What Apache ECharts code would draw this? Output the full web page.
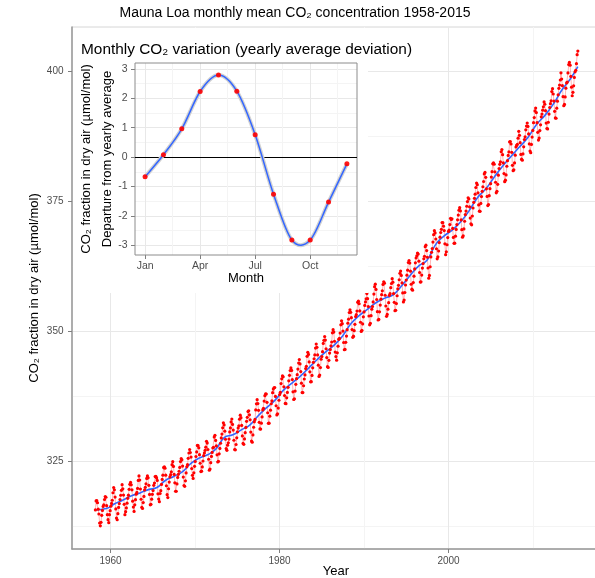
<!DOCTYPE html>
<html><head><meta charset="utf-8">
<script src="https://cdn.jsdelivr.net/npm/echarts@6/dist/echarts.min.js"></script>
<style>html,body{margin:0;padding:0;background:#fff}#c{width:595px;height:578px}</style>
</head><body><div id="c"></div>
<script>
// ---------------- DATA ----------------
const startYear = 1958, startMonth = 3; // first monthly value: March 1958
const co2_1958_1959 = [315.71,317.45,317.50,317.10,315.86,314.93,313.20,312.66,313.33,314.67,
  315.62,316.38,316.71,317.72,318.29,318.15,316.54,314.80,313.84,313.26,314.80,315.58];
const co2_1960s = [
  316.43,316.97,317.58,319.02,320.03,319.59,318.18,315.91,314.16,313.83,315.00,316.19,
  316.93,317.70,318.54,319.48,320.58,319.77,318.57,316.79,314.80,315.38,316.10,317.01,
  317.94,318.56,319.68,320.63,321.01,320.55,319.58,317.40,316.26,315.42,316.69,317.69,
  318.74,319.08,319.86,321.39,322.25,321.47,319.74,317.77,316.21,315.99,317.12,318.31,
  319.57,320.07,320.73,321.77,322.25,321.89,320.44,318.70,316.70,316.79,317.79,318.71,
  319.44,320.44,320.89,322.13,322.16,321.87,321.39,318.81,317.81,317.30,318.87,319.42,
  320.62,321.59,322.39,323.87,324.01,323.75,322.39,320.37,318.64,318.10,319.79,321.08,
  322.07,322.50,323.04,324.42,325.00,324.09,322.55,320.92,319.31,319.31,320.72,321.96,
  322.57,323.15,323.89,325.02,325.57,325.36,324.14,322.03,320.41,320.25,321.31,322.84,
  324.00,324.42,325.64,326.66,327.34,326.76,325.88,323.67,322.38,321.78,322.85,324.11];
const co2_1970s = [
  325.03,325.99,326.87,328.13,328.07,327.66,326.35,324.69,323.10,323.16,323.98,325.13,
  326.17,326.68,327.18,327.78,328.92,328.57,327.34,325.46,323.36,323.57,324.80,326.01,
  326.77,327.63,327.75,329.72,330.07,329.09,328.05,326.32,324.93,325.06,326.50,327.55,
  328.54,329.56,330.30,331.50,332.48,332.07,330.87,329.31,327.51,327.18,328.16,328.64,
  329.35,330.71,331.48,332.65,333.20,332.16,331.07,329.12,327.32,327.28,328.30,329.58,
  330.73,331.46,331.90,333.17,333.94,333.45,331.97,329.95,328.50,328.34,329.37,330.58,
  331.59,332.75,333.52,334.64,334.77,334.00,333.06,330.68,328.95,328.75,330.15,331.62,
  332.66,333.13,334.95,336.13,336.93,336.17,334.88,332.56,331.29,331.27,332.41,333.60,
  334.95,335.25,336.66,337.69,338.03,338.01,336.41,334.41,332.37,332.41,333.75,334.90,
  336.14,336.69,338.27,338.96,339.21,339.26,337.54,335.75,333.98,334.19,335.31,336.81];
const co2_1980s = [
  337.90,338.34,340.01,340.93,341.48,341.33,339.40,337.70,336.19,336.15,337.27,338.32,
  339.29,340.55,341.61,342.53,343.03,342.54,340.78,338.44,336.95,337.08,338.58,339.88,
  340.96,341.73,342.81,343.97,344.63,343.79,342.32,340.09,338.28,338.29,339.60,340.90,
  341.68,342.90,343.33,345.25,346.03,345.63,344.19,342.27,340.35,340.38,341.59,343.05,
  344.10,344.79,345.52,346.84,347.63,346.98,345.53,343.55,341.40,341.67,343.10,344.70,
  345.21,346.16,347.74,348.33,349.06,348.38,346.72,345.02,343.27,343.13,344.49,345.88,
  346.56,347.28,348.01,349.77,350.38,349.93,348.16,346.08,345.22,344.51,345.93,347.21,
  348.52,348.73,349.73,351.31,352.09,351.53,350.11,347.92,346.52,346.59,347.96,349.16,
  350.39,351.64,352.40,353.69,354.21,353.72,352.69,350.40,348.92,349.13,350.20,351.41,
  352.91,353.27,353.96,355.64,355.86,355.37,353.99,351.81,350.05,350.25,351.49,352.85];
const co2_1990s = [
  353.80,355.04,355.73,356.32,357.32,356.34,354.84,353.01,351.31,351.62,353.07,354.33,
  354.84,355.73,357.23,358.66,359.13,358.13,356.19,353.85,352.25,352.35,353.81,355.12,
  356.25,357.11,357.86,359.09,359.59,359.33,357.01,354.94,352.96,353.32,354.32,355.57,
  357.00,357.31,358.47,359.27,360.19,359.52,357.33,355.64,354.03,354.12,355.41,356.91,
  358.24,358.92,359.99,361.23,361.65,360.81,359.38,357.46,355.73,356.08,357.53,358.98,
  359.92,360.86,361.83,363.30,363.69,363.19,361.64,359.12,358.17,357.99,359.45,360.68,
  362.07,363.24,364.17,364.57,365.13,364.92,363.55,361.38,359.54,359.58,360.89,362.24,
  363.09,364.03,364.51,366.35,366.64,365.59,364.31,362.25,360.29,360.82,362.49,364.38,
  365.26,365.98,367.24,368.66,369.42,368.99,367.82,365.95,364.02,364.40,365.52,367.13,
  368.18,369.07,369.68,370.99,370.96,370.30,369.45,366.90,364.81,365.37,366.72,368.10];
const co2_2000s = [
  369.29,369.54,370.60,371.82,371.58,371.70,369.86,368.13,367.00,367.03,368.37,369.67,
  370.59,371.51,372.43,373.37,373.85,373.22,371.50,369.61,368.18,368.45,369.76,371.24,
  372.53,373.20,374.12,375.02,375.76,375.52,374.01,371.85,370.75,370.55,372.25,373.79,
  374.88,375.64,376.45,377.73,378.60,378.28,376.70,374.38,373.17,373.15,374.66,375.99,
  377.00,377.87,378.88,380.35,380.62,379.69,377.47,376.01,374.25,374.46,376.16,377.51,
  378.46,379.73,380.77,382.29,382.45,382.21,380.74,378.74,376.70,377.00,378.35,380.11,
  381.38,382.19,382.67,384.61,385.03,384.05,382.46,380.41,378.85,379.13,380.15,381.82,
  382.89,383.90,384.58,386.50,386.56,386.10,384.50,381.99,380.96,381.12,382.45,383.95,
  385.52,385.82,386.03,387.21,388.54,387.76,386.36,384.09,383.18,382.99,384.19,385.56,
  386.94,387.48,388.82,389.55,390.14,389.48,388.03,386.11,384.74,384.43,386.02,387.42];
const co2_2010s = [
  388.71,390.20,391.17,392.46,393.00,392.15,390.20,388.35,386.85,387.24,388.67,389.79,
  391.33,391.86,392.60,393.25,394.19,393.74,392.51,390.13,389.08,389.00,390.28,391.86,
  393.12,393.86,394.40,396.18,396.74,395.71,394.36,392.39,391.11,391.05,392.98,394.34,
  395.55,396.80,397.43,398.41,399.78,398.60,397.32,395.20,393.45,393.70,395.16,396.84,
  397.85,398.01,399.77,401.38,401.78,401.25,399.10,397.03,395.38,396.03,397.28,398.91,
  399.98,400.28,401.54,403.28,403.96];

// smoothed trend (blue line) and its confidence half-width (grey band)
const trendYears = [1958.2,1959.5,1960.5,1961.5,1962.5,1963.5,1964.5,1965.5,1966.5,1967.5,1968.5,1969.5,
  1970.5,1971.5,1972.5,1973.5,1974.5,1975.5,1976.5,1977.5,1978.5,1979.5,
  1980.5,1981.5,1982.5,1983.5,1984.5,1985.5,1986.5,1987.5,1988.5,1989.5,
  1990.5,1991.5,1992.5,1993.5,1994.5,1995.5,1996.5,1997.5,1998.5,1999.5,
  2000.5,2001.5,2002.5,2003.5,2004.5,2005.5,2006.5,2007.5,2008.5,2009.5,
  2010.5,2011.5,2012.5,2013.5,2014.5,2015.37];
const trendValues = [315.7,315.97,316.91,317.64,318.45,318.99,319.62,320.04,321.38,322.16,323.04,324.62,
  325.68,326.32,327.45,329.68,330.18,331.11,332.04,333.83,335.40,336.84,
  338.75,340.11,341.45,343.05,344.65,346.12,347.42,349.19,351.57,353.12,
  354.39,355.61,356.45,357.10,358.83,360.82,362.61,363.73,366.70,368.38,
  369.55,371.14,373.28,375.80,377.52,379.80,381.90,383.79,385.60,387.43,
  389.90,391.65,393.85,396.52,398.65,401.0];
const trendBand = [1.2,0.95,0.8,0.7,0.65,0.65,0.65,0.65,0.65,0.65,0.65,0.65,
  0.65,0.65,0.65,0.65,0.65,0.65,0.65,0.65,0.65,0.65,
  0.65,0.65,0.65,0.65,0.65,0.65,0.65,0.65,0.65,0.65,
  0.65,0.65,0.65,0.65,0.65,0.65,0.65,0.65,0.65,0.65,
  0.65,0.65,0.65,0.65,0.65,0.65,0.65,0.65,0.65,0.65,
  0.65,0.65,0.7,0.8,0.95,1.2];

// inset: monthly deviation from yearly average
const monthIndex = [0,1,2,3,4,5,6,7,8,9,10,11];
const monthDeviation = [-0.67,0.08,0.96,2.23,2.79,2.24,0.76,-1.26,-2.82,-2.82,-1.53,-0.23];
const monthTickValues = [0,3,6,9];
const monthTickLabels = ['Jan','Apr','Jul','Oct'];

// ---------------- BUILD ----------------
const FONT = "'Liberation Sans', Arial, Helvetica, sans-serif";
const monthly = [].concat(co2_1958_1959, co2_1960s, co2_1970s, co2_1980s, co2_1990s, co2_2000s, co2_2010s);
const monthlyPts = monthly.map((v, i) => {
  const k = startMonth - 1 + i;
  return [startYear + Math.floor(k / 12) + ((k % 12) + 0.5) / 12, v];
});
const bandLow = trendYears.map((x, i) => [x, trendValues[i] - trendBand[i]]);
const bandWidth = trendYears.map((x, i) => [x, 2 * trendBand[i]]);
const trendPts = trendYears.map((x, i) => [x, trendValues[i]]);
const insetPts = monthIndex.map((m, i) => [m, monthDeviation[i]]);

// spline segment (Catmull-Rom as cubic Bezier) between data points i and i+1, in pixel space via the axes
function splineSegment(api, i) {
  const n = insetPts.length;
  const p = k => api.coord(insetPts[Math.max(0, Math.min(n - 1, k))]);
  const p0 = p(i - 1), p1 = p(i), p2 = p(i + 1), p3 = p(i + 2);
  return {
    x1: p1[0], y1: p1[1], x2: p2[0], y2: p2[1],
    cpx1: p1[0] + (p2[0] - p0[0]) / 6, cpy1: p1[1] + (p2[1] - p0[1]) / 6,
    cpx2: p2[0] - (p3[0] - p1[0]) / 6, cpy2: p2[1] - (p3[1] - p1[1]) / 6
  };
}
function splineRenderer(color, width) {
  return function (params, api) {
    const i = params.dataIndex;
    if (i >= insetPts.length - 1) return null;
    return {type: 'bezierCurve', shape: splineSegment(api, i),
            style: {stroke: color, lineWidth: width, fill: 'none'}};
  };
}

const LABEL = {color: '#4d4d4d', fontSize: 10, fontFamily: FONT};
const TICK = {show: true, length: 4, lineStyle: {color: '#7f7f7f', width: 1}};
const MAJOR = {show: true, lineStyle: {color: '#e8e8e8', width: 1}};
const MINOR = {show: true, lineStyle: {color: '#f4f4f4', width: 1}};
const NOAX = {show: false, onZero: false};
function hiddenAxis(grid, min, max) {
  return {type: 'value', gridIndex: grid, min: min, max: max, show: false, axisLine: NOAX};
}
const gridBase = {containLabel: false, outerBoundsMode: 'none'};

const option = {
  animation: false,
  textStyle: {fontFamily: FONT},
  title: [
    {text: 'Mauna Loa monthly mean CO₂ concentration 1958-2015', left: 295, top: 6, textAlign: 'center',
     padding: 0, textStyle: {fontSize: 14, fontWeight: 'normal', color: '#000', fontFamily: FONT}},
    {text: 'Monthly CO₂ variation (yearly average deviation)', left: 81, top: 42, padding: 0, z: 10,
     textStyle: {fontSize: 15.4, fontWeight: 'normal', color: '#000', fontFamily: FONT}}
  ],
  graphic: [
    {type: 'rect', shape: {x: 73, y: 28, width: 295, height: 265}, style: {fill: '#ffffff'}, z: 3, silent: true}
  ],
  grid: [
    Object.assign({left: 72, top: 27, width: 528, height: 522, show: true, borderColor: '#d6d6d6', borderWidth: 1, backgroundColor: 'transparent', z: -1}, gridBase),
    Object.assign({left: 110.5, top: 27, width: 507, height: 522}, gridBase),
    Object.assign({left: 72, top: 71.7, width: 528, height: 520}, gridBase),
    Object.assign({left: 135, top: 63, width: 222, height: 192, show: true, borderColor: '#8c8c8c', borderWidth: 1, backgroundColor: 'transparent', z: 5}, gridBase),
    Object.assign({left: 145.1, top: 63, width: 211.9, height: 192}, gridBase),
    Object.assign({left: 135, top: 68.9, width: 222, height: 176.4}, gridBase)
  ],
  xAxis: [
    {type: 'value', gridIndex: 0, min: 1955.437, max: 2018.0,
     axisLine: {show: true, onZero: false, lineStyle: {color: '#999', width: 1.5}},
     axisTick: {show: false}, axisLabel: {show: false}, splitLine: {show: false},
     name: 'Year', nameLocation: 'middle', nameGap: 16, nameMoveOverlap: false,
     nameTextStyle: {fontSize: 13, color: '#000', fontFamily: FONT}},
    {type: 'value', gridIndex: 1, min: 1960, max: 2020, interval: 20,
     axisLine: NOAX, axisTick: TICK, axisLabel: Object.assign({margin: 7, formatter: v => String(v)}, LABEL),
     splitLine: MAJOR, minorTick: {show: false, splitNumber: 2}, minorSplitLine: MINOR},
    hiddenAxis(2, 0, 1),
    {type: 'value', gridIndex: 3, min: -0.55, max: 11.55, z: 5,
     axisLine: NOAX, axisTick: {show: false}, axisLabel: {show: false}, splitLine: {show: false},
     name: 'Month', nameLocation: 'middle', nameGap: 17, nameMoveOverlap: false,
     nameTextStyle: {fontSize: 13, color: '#000', fontFamily: FONT}},
    {type: 'value', gridIndex: 4, min: 0, max: 11.55, interval: 3, z: 4,
     axisLine: NOAX,
     axisTick: Object.assign({customValues: monthTickValues}, TICK),
     axisLabel: Object.assign({margin: 6, customValues: monthTickValues,
       formatter: v => { const i = monthTickValues.indexOf(Math.round(v * 1000) / 1000); return i >= 0 ? monthTickLabels[i] : ''; }},
       LABEL, {fontSize: 10.5}),
     splitLine: MAJOR, minorTick: {show: false, splitNumber: 2}, minorSplitLine: MINOR},
    hiddenAxis(5, 0, 1)
  ],
  yAxis: [
    {type: 'value', gridIndex: 0, min: 308.2, max: 408.6,
     axisLine: {show: true, onZero: false, lineStyle: {color: '#999', width: 1.5}},
     axisTick: {show: false}, axisLabel: {show: false}, splitLine: {show: false},
     name: 'CO₂ fraction in dry air (µmol/mol)', nameLocation: 'middle', nameRotate: 90, nameGap: 31,
     nameMoveOverlap: false, nameTextStyle: {fontSize: 13, color: '#000', fontFamily: FONT}},
    hiddenAxis(1, 0, 1),
    {type: 'value', gridIndex: 2, min: 300, max: 400, interval: 25,
     axisLine: NOAX, axisTick: TICK, axisLabel: Object.assign({margin: 8.5}, LABEL),
     splitLine: MAJOR, minorTick: {show: false, splitNumber: 2}, minorSplitLine: MINOR},
    {type: 'value', gridIndex: 3, min: -3.33, max: 3.2, z: 5,
     axisLine: NOAX, axisTick: {show: false}, axisLabel: {show: false}, splitLine: {show: false},
     name: 'CO₂ fraction in dry air (µmol/mol)\nDeparture from yearly average',
     nameLocation: 'middle', nameRotate: 90, nameGap: 17, nameMoveOverlap: false,
     nameTextStyle: {fontSize: 13, lineHeight: 21, color: '#000', fontFamily: FONT}},
    hiddenAxis(4, 0, 1),
    {type: 'value', gridIndex: 5, min: -3, max: 3, interval: 1, z: 4,
     axisLine: NOAX, axisTick: TICK, axisLabel: Object.assign({margin: 7.5}, LABEL, {fontSize: 10.5}),
     splitLine: MAJOR, minorTick: {show: false, splitNumber: 2}, minorSplitLine: MINOR}
  ],
  series: [
    {type: 'line', name: 'monthly', xAxisIndex: 0, yAxisIndex: 0, data: monthlyPts, z: 2, silent: true,
     symbol: 'circle', symbolSize: 3.2, showSymbol: true, itemStyle: {color: '#ff0000'},
     lineStyle: {color: 'rgba(255,0,0,0.33)', width: 0.9}},
    {type: 'line', name: 'bandLow', xAxisIndex: 0, yAxisIndex: 0, data: bandLow, stack: 'band', z: 2, silent: true,
     symbol: 'none', smooth: true, lineStyle: {opacity: 0}},
    {type: 'line', name: 'bandWidth', xAxisIndex: 0, yAxisIndex: 0, data: bandWidth, stack: 'band', z: 2, silent: true,
     symbol: 'none', smooth: true, lineStyle: {opacity: 0}, areaStyle: {color: 'rgba(140,140,140,0.45)'}},
    {type: 'line', name: 'trend', xAxisIndex: 0, yAxisIndex: 0, data: trendPts, z: 2, silent: true,
     symbol: 'none', smooth: true, lineStyle: {color: '#3366FF', width: 1.6}},
    {type: 'line', name: 'zeroRef', xAxisIndex: 3, yAxisIndex: 3, data: insetPts, z: 6, silent: true,
     symbol: 'none', lineStyle: {opacity: 0},
     markLine: {silent: true, symbol: ['none', 'none'], label: {show: false}, animation: false,
       lineStyle: {color: '#000', width: 1, type: 'solid'}, data: [{yAxis: 0}]}},
    {type: 'custom', name: 'insetHalo', coordinateSystem: 'cartesian2d', xAxisIndex: 3, yAxisIndex: 3,
     data: insetPts, z: 6, silent: true, renderItem: splineRenderer('#d2d2d2', 4)},
    {type: 'custom', name: 'insetCurve', coordinateSystem: 'cartesian2d', xAxisIndex: 3, yAxisIndex: 3,
     data: insetPts, z: 7, silent: true, renderItem: splineRenderer('#3366FF', 1.5)},
    {type: 'scatter', name: 'insetPoints', xAxisIndex: 3, yAxisIndex: 3, data: insetPts, z: 8, silent: true,
     symbolSize: 5, itemStyle: {color: '#ff0000', opacity: 0.9}}
  ]
};
const chart = echarts.init(document.getElementById('c'), null, {renderer: 'canvas', width: 595, height: 578});
chart.setOption(option);
</script>
</body></html>
